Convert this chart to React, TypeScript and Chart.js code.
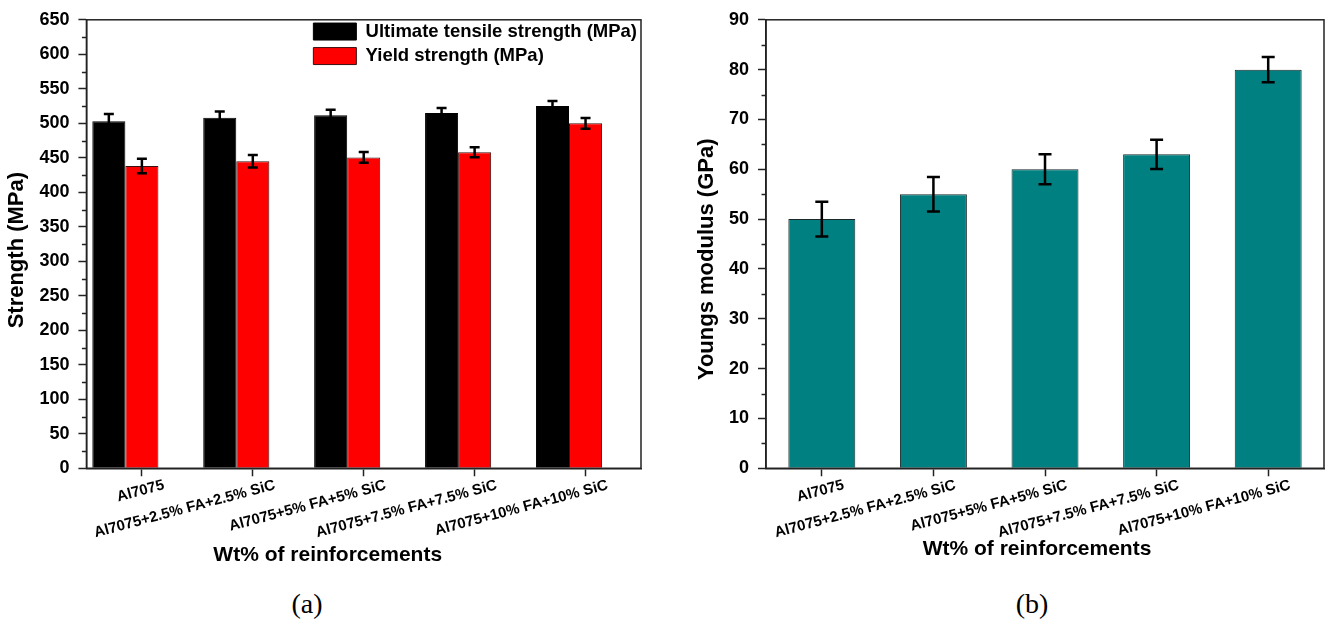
import React, { useEffect, useRef } from 'react';
import { Chart, registerables } from 'chart.js';

Chart.register(...registerables);

const FONT = "'Liberation Sans', Arial, sans-serif";

const categories = [
  'Al7075',
  'Al7075+2.5% FA+2.5% SiC',
  'Al7075+5% FA+5% SiC',
  'Al7075+7.5% FA+7.5% SiC',
  'Al7075+10% FA+10% SiC',
];
const utsValues = [503, 508, 511.5, 515, 525];
const utsErrors = [10.5, 9, 8.3, 7.3, 7.3];
const ysValues = [438, 445, 450.5, 458, 500];
const ysErrors = [10.5, 9, 7.8, 7.3, 7.8];
const modulusValues = [50, 55, 60, 63, 80];
const modulusErrors = [3.5, 3.45, 3, 2.95, 2.55];
const strengthAxis = { min: 0, max: 650, step: 50, minor: 25 };
const modulusAxis = { min: 0, max: 90, step: 10, minor: 5 };

const framePlugin: any = {
  id: 'frame',
  afterLayout(chart: any, _args: any, opts: any) {
    const lg: any = chart.legend;
    if (!lg || !lg.options.display || !lg.legendHitBoxes) return;
    const maxW = Math.max(...lg.legendHitBoxes.map((h: any) => h.width));
    const pad = lg.options.labels.padding;
    const left = chart.chartArea.right - (opts.legendRight || 4) - maxW - pad;
    const w = lg.width;
    lg.left = left;
    lg.right = left + w;
    const top = chart.chartArea.top - 3.5;
    const h = lg.height;
    lg.top = top;
    lg.bottom = top + h;
  },
  afterDatasetsDraw(chart: any, _args: any, opts: any) {
    const ctx = chart.ctx;
    const yScale = chart.scales.y;
    chart.data.datasets.forEach((ds: any, di: number) => {
      if (!ds.errors) return;
      const meta = chart.getDatasetMeta(di);
      meta.data.forEach((el: any, i: number) => {
        const v = ds.data[i];
        const e = ds.errors[i];
        if (v == null || e == null) return;
        const x = el.x;
        const yT = yScale.getPixelForValue(v + e);
        const yB = yScale.getPixelForValue(v - e);
        const cap = opts.cap || 5;
        ctx.save();
        ctx.strokeStyle = '#000';
        ctx.lineWidth = opts.errWidth || 2.5;
        ctx.beginPath();
        ctx.moveTo(x, yT);
        ctx.lineTo(x, yB);
        ctx.moveTo(x - cap, yT);
        ctx.lineTo(x + cap, yT);
        ctx.moveTo(x - cap, yB);
        ctx.lineTo(x + cap, yB);
        ctx.stroke();
        ctx.restore();
      });
    });
  },
  afterDraw(chart: any, _args: any, opts: any) {
    const ctx = chart.ctx;
    const a = chart.chartArea;
    const yScale = chart.scales.y;
    ctx.save();
    ctx.strokeStyle = '#222';
    ctx.lineWidth = 1.5;
    ctx.strokeRect(a.left, a.top, a.right - a.left, a.bottom - a.top);
    if (opts.minor) {
      ctx.beginPath();
      for (let v = opts.minor; v < yScale.max; v += opts.step) {
        const y = Math.round(yScale.getPixelForValue(v)) + 0.5;
        ctx.moveTo(a.left - 4.5, y);
        ctx.lineTo(a.left, y);
      }
      ctx.stroke();
    }
    if (opts.xTitle) {
      ctx.fillStyle = '#000';
      ctx.font = `bold 21px ${FONT}`;
      ctx.textAlign = 'center';
      ctx.textBaseline = 'middle';
      ctx.fillText(opts.xTitle, (a.left + a.right) / 2 + (opts.xTitleShift || 0), opts.xTitleY);
    }
    ctx.restore();
  },
};

function axisX() {
  return {
    offset: true,
    grid: {
      display: true,
      drawOnChartArea: false,
      drawTicks: true,
      tickLength: 8,
      tickWidth: 1.5,
      tickColor: '#222',
      offset: false,
    },
    border: { display: true, color: '#222', width: 1.5 },
    ticks: {
      font: { family: FONT, weight: 'bold' as const, size: 15 },
      color: '#000',
      maxRotation: 15,
      minRotation: 15,
      padding: 0,
      labelOffset: 22,
      autoSkip: false,
    },
    title: { display: false },
  };
}

function axisY(range: any, title: string) {
  return {
    min: range.min,
    max: range.max,
    ticks: {
      stepSize: range.step,
      font: { family: FONT, weight: 'bold' as const, size: 18 },
      color: '#000',
      padding: 9,
    },
    grid: {
      drawOnChartArea: false,
      drawTicks: true,
      tickLength: 8,
      tickWidth: 1.5,
      tickColor: '#222',
    },
    border: { display: true, color: '#222', width: 1.5 },
    title: {
      display: true,
      text: title,
      color: '#000',
      font: { family: FONT, weight: 'bold' as const, size: 22 },
      padding: { top: 0, bottom: 0 },
    },
  };
}

function StrengthChart() {
  const ref = useRef<HTMLCanvasElement>(null);
  useEffect(() => {
    if (!ref.current) return;
    const chart = new Chart(ref.current, {
      type: 'bar',
      data: {
        labels: categories,
        datasets: [
          {
            label: 'Ultimate tensile strength (MPa)',
            data: utsValues,
            errors: utsErrors,
            backgroundColor: '#000000',
            borderColor: '#000000',
            borderWidth: 1,
          } as any,
          {
            label: 'Yield strength (MPa)',
            data: ysValues,
            errors: ysErrors,
            backgroundColor: '#FF0000',
            borderColor: '#3a1010',
            borderWidth: 1,
          } as any,
          {
            label: '',
            data: [],
            backgroundColor: 'rgba(0,0,0,0)',
            borderWidth: 0,
          },
        ],
      },
      options: {
        responsive: false,
        animation: false,
        devicePixelRatio: 1,
        datasets: { bar: { categoryPercentage: 0.894, barPercentage: 1 } },
        layout: { padding: { left: 4, right: 23, top: 18.5, bottom: 38 } },
        scales: { x: axisX() as any, y: axisY(strengthAxis, 'Strength (MPa)  ') as any },
        plugins: {
          tooltip: { enabled: false },
          legend: {
            display: true,
            position: 'chartArea' as any,
            align: 'start',
            labels: {
              font: { family: FONT, weight: 'bold', size: 18.5 },
              color: '#000',
              boxWidth: 43,
              boxHeight: 17,
              padding: 6,
              filter: (item: any) => item.datasetIndex < 2,
            },
          },
          frame: {
            minor: strengthAxis.minor,
            step: strengthAxis.step,
            cap: 5,
            errWidth: 2.5,
            xTitle: 'Wt% of reinforcements',
            xTitleShift: -36,
            xTitleY: 555,
          },
        } as any,
      },
      plugins: [framePlugin],
    });
    return () => chart.destroy();
  }, []);
  return <canvas ref={ref} width={664} height={580} style={{ display: 'block' }} />;
}

function ModulusChart() {
  const ref = useRef<HTMLCanvasElement>(null);
  useEffect(() => {
    if (!ref.current) return;
    const chart = new Chart(ref.current, {
      type: 'bar',
      data: {
        labels: categories,
        datasets: [
          {
            label: 'Youngs modulus (GPa)',
            data: modulusValues,
            errors: modulusErrors,
            backgroundColor: '#008080',
            borderColor: '#1a2a2a',
            borderWidth: 1,
          } as any,
        ],
      },
      options: {
        responsive: false,
        animation: false,
        devicePixelRatio: 1,
        datasets: { bar: { categoryPercentage: 1, barPercentage: 0.6 } },
        layout: { padding: { left: 29.6, right: 4, top: 18.5, bottom: 38 } },
        scales: { x: axisX() as any, y: axisY(modulusAxis, 'Youngs modulus (GPa)     ') as any },
        plugins: {
          tooltip: { enabled: false },
          legend: { display: false },
          frame: {
            minor: modulusAxis.minor,
            step: modulusAxis.step,
            cap: 6.5,
            errWidth: 2.5,
            xTitle: 'Wt% of reinforcements',
            xTitleShift: -8,
            xTitleY: 549,
          },
        } as any,
      },
      plugins: [framePlugin],
    });
    return () => chart.destroy();
  }, []);
  return <canvas ref={ref} width={664} height={580} style={{ display: 'block' }} />;
}

export default function App() {
  const caption: React.CSSProperties = {
    position: 'absolute',
    top: 604,
    transform: 'translate(-50%, -50%)',
    fontFamily: "'Liberation Serif', 'Times New Roman', serif",
    fontSize: 28,
    color: '#000',
    whiteSpace: 'nowrap',
    lineHeight: 1,
  };
  return (
    <div style={{ position: 'absolute', left: 0, top: 0, width: 1328, height: 621, background: '#fff', overflow: 'hidden' }}>
      <div style={{ position: 'absolute', left: 0, top: 0 }}>
        <StrengthChart />
      </div>
      <div style={{ position: 'absolute', left: 664, top: 0 }}>
        <ModulusChart />
      </div>
      <div style={{ ...caption, left: 307 }}>(a)</div>
      <div style={{ ...caption, left: 1032 }}>(b)</div>
    </div>
  );
}
